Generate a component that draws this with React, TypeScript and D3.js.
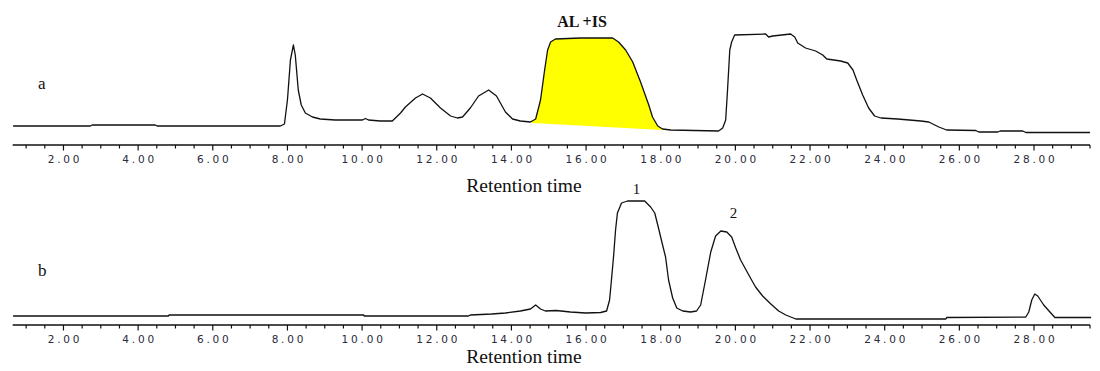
import React from "react";
import * as d3 from "d3";

// Chromatogram a (time in min, detector response arbitrary units)
const timeA = [0.65, 2.72, 2.77, 4.46, 4.51, 7.81, 7.92, 8.0, 8.08, 8.16, 8.21, 8.29, 8.37, 8.48, 8.67, 8.88, 9.28, 10.01, 10.09, 10.17, 10.49, 10.81, 11.03, 11.16, 11.43, 11.62, 11.83, 12.1, 12.37, 12.55, 12.69, 12.9, 13.12, 13.39, 13.6, 13.84, 14.03, 14.24, 14.51, 14.65, 14.78, 14.89, 14.97, 15.05, 15.18, 15.85, 16.39, 16.71, 16.87, 17.06, 17.25, 17.46, 17.68, 17.78, 17.92, 18.05, 18.27, 19.55, 19.66, 19.74, 19.79, 19.85, 19.9, 19.98, 20.81, 20.89, 21.0, 21.48, 21.59, 21.67, 21.88, 22.15, 22.34, 22.45, 22.82, 23.01, 23.15, 23.25, 23.41, 23.57, 23.73, 23.9, 24.35, 24.97, 25.18, 25.45, 25.66, 26.44, 26.52, 27.03, 27.09, 27.7, 27.78, 29.5];
const signalA = [9, 9, 10, 10, 9, 9, 11, 35, 75, 90, 80, 45, 30, 22, 18, 16, 15, 15, 16.5, 15, 14, 14, 22, 28, 37, 41, 37, 27, 19, 17, 18, 27, 39, 45, 39, 23, 16, 14, 13, 16, 35, 65, 85, 93, 96, 97, 97, 97, 93, 85, 73, 53, 30, 18, 9, 6, 5, 4, 7, 15, 45, 85, 93, 100, 101, 98, 99, 101, 98, 92, 87, 84, 80, 76, 74, 72, 65, 55, 40, 27, 19, 17, 16, 14, 13, 8, 5, 4.5, 3, 3, 4, 4, 2.5, 2.5];

// Integrated region AL + IS
const peakStart = 14.55;
const peakEnd = 18.05;
const peakBaseStart = 12;
const peakBaseEnd = 5;

// Chromatogram b
const timeB = [0.65, 4.81, 4.83, 10.04, 10.06, 12.85, 12.9, 13.47, 13.84, 14.24, 14.51, 14.65, 14.78, 14.91, 15.2, 15.58, 15.99, 16.39, 16.55, 16.63, 16.68, 16.74, 16.79, 16.84, 16.95, 17.11, 17.57, 17.73, 17.84, 17.94, 18.05, 18.13, 18.21, 18.32, 18.43, 18.59, 18.8, 18.96, 19.07, 19.2, 19.34, 19.47, 19.61, 19.77, 19.9, 20.01, 20.14, 20.36, 20.54, 20.73, 20.95, 21.16, 21.35, 21.62, 25.64, 25.66, 27.78, 27.86, 27.94, 28.02, 28.1, 28.26, 28.45, 28.56, 29.53];
const signalB = [6, 6, 7, 7, 6, 6, 7, 8, 9, 11, 13, 17, 13, 11, 11.5, 10, 9, 9.5, 11, 22, 42, 67, 92, 109, 119, 121, 121, 115, 109, 94, 77, 65, 42, 24, 14, 11, 10, 11, 17, 42, 70, 86, 91, 90, 85, 74, 62, 47, 35, 26, 18, 11, 7, 3, 3, 4.5, 5, 10, 22, 28, 26, 17, 9, 4.5, 4.5];

const peakLabelsB = [
  { label: "1", t: 17.35, v: 121 },
  { label: "2", t: 19.95, v: 97 },
];

const majorTicks = [2, 4, 6, 8, 10, 12, 14, 16, 18, 20, 22, 24, 26, 28];
const minorTicks = d3.range(1, 29.51, 0.5);

const W = 1100;
const H = 371;

const x = d3.scaleLinear().domain([0.64, 29.5]).range([12.7, 1090]);
const yA = d3.scaleLinear().domain([0, 100]).range([135, 35]);
const yB = d3.scaleLinear().domain([0, 100]).range([322, 222]);

function Axis({ y }: { y: number }) {
  return (
    <g>
      <line x1={x(0.64)} x2={x(29.5)} y1={y} y2={y} stroke="#111" strokeWidth={1.6} />
      {minorTicks.map((t) => {
        const major = majorTicks.includes(t);
        return (
          <line key={t} x1={x(t)} x2={x(t)} y1={y} y2={y + (major ? 5.5 : 3.5)} stroke="#111" strokeWidth={1.2} />
        );
      })}
      {majorTicks.map((t) => (
        <text
          key={t}
          x={x(t) + 1.5}
          y={y + 18}
          textAnchor="middle"
          fontFamily="DejaVu Sans, sans-serif"
          fontSize={10.5}
          letterSpacing={2.8}
          fill="#2a2a3a"
        >
          {t.toFixed(2)}
        </text>
      ))}
    </g>
  );
}

export default function App() {
  const ptsA = timeA.map((t, i) => [t, signalA[i]] as [number, number]);
  const ptsB = timeB.map((t, i) => [t, signalB[i]] as [number, number]);
  const lineA = d3.line<[number, number]>().x((d) => x(d[0])).y((d) => yA(d[1]));
  const lineB = d3.line<[number, number]>().x((d) => x(d[0])).y((d) => yB(d[1]));

  const inside = ptsA.filter((d) => d[0] >= peakStart && d[0] <= peakEnd);
  const interp = (t: number) => {
    for (let i = 1; i < ptsA.length; i++) {
      if (ptsA[i][0] >= t) {
        const a = ptsA[i - 1];
        const b = ptsA[i];
        return a[1] + ((b[1] - a[1]) * (t - a[0])) / (b[0] - a[0]);
      }
    }
    return ptsA[ptsA.length - 1][1];
  };
  const areaPts: [number, number][] = [
    [peakStart, Math.max(interp(peakStart), peakBaseStart)],
    ...inside,
    [peakEnd, interp(peakEnd)],
    [peakEnd, peakBaseEnd],
    [peakStart, peakBaseStart],
  ];
  const areaPath = lineA(areaPts) + "Z";

  return (
    <svg width={W} height={H} style={{ position: "absolute", left: 0, top: 0, background: "#fff" }}>
      <rect width={W} height={H} fill="#fff" />
      <path d={areaPath} fill="#ffff00" stroke="none" />
      <path d={lineA(ptsA) || ""} fill="none" stroke="#111" strokeWidth={1.3} strokeLinejoin="round" />
      <path d={lineB(ptsB) || ""} fill="none" stroke="#111" strokeWidth={1.3} strokeLinejoin="round" />

      <Axis y={145} />
      <Axis y={325} />

      <text x={38} y={89} fontFamily="Liberation Serif, serif" fontSize={17} fill="#111">a</text>
      <text x={38} y={276} fontFamily="Liberation Serif, serif" fontSize={17} fill="#111">b</text>

      <text x={582} y={27} textAnchor="middle" fontFamily="Liberation Serif, serif" fontWeight="bold" fontSize={16} fill="#111">AL +IS</text>

      {peakLabelsB.map((p) => (
        <text key={p.label} x={x(p.t)} y={yB(p.v) - 7} textAnchor="middle" fontFamily="Liberation Serif, serif" fontSize={15} fill="#111">
          {p.label}
        </text>
      ))}

      <text x={524} y={192} textAnchor="middle" fontFamily="Liberation Serif, serif" fontSize={19.5} fill="#111">Retention time</text>
      <text x={524} y={363} textAnchor="middle" fontFamily="Liberation Serif, serif" fontSize={19.5} fill="#111">Retention time</text>
    </svg>
  );
}
